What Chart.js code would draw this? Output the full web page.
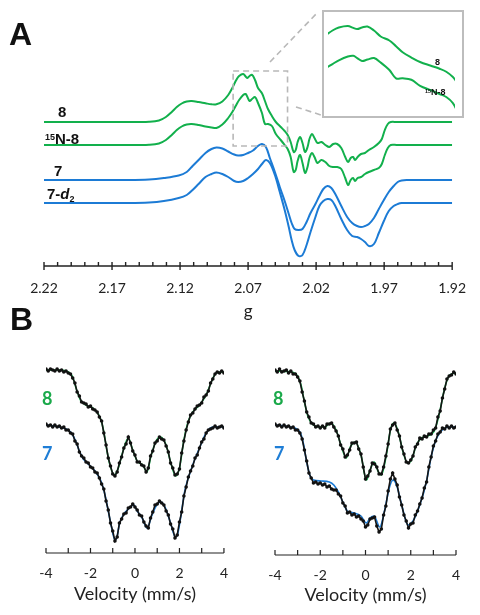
<!DOCTYPE html>
<html>
<head>
<meta charset="utf-8">
<script src="https://cdn.jsdelivr.net/npm/chart.js@4.4.1/dist/chart.umd.min.js"></script>
<style>
  body { margin: 0; width: 480px; height: 615px; position: relative; overflow: hidden; background: #fff; }
  canvas { position: absolute; }
  .lbl { position: absolute; line-height: 1; white-space: nowrap; color: #111; font-weight: bold; font-family: "Liberation Sans", Arial, sans-serif; }
  .mb { position: absolute; line-height: 1; font-weight: bold; font-family: Lato, sans-serif; font-size: 18px; }
  .sup { font-size: 0.6em; position: relative; top: -0.45em; }
  .sub { font-size: 0.6em; position: relative; top: 0.35em; }
</style>
</head>
<body>
<canvas id="epr" width="480" height="330" style="left:0;top:0"></canvas>
<div style="position:absolute;left:322px;top:10px;width:138px;height:104px;border:2px solid #bdbdbd;"></div>
<canvas id="inset" width="138" height="104" style="left:324px;top:12px"></canvas>
<canvas id="mossL" width="240" height="275" style="left:0;top:340px"></canvas>
<canvas id="mossR" width="240" height="275" style="left:240px;top:340px"></canvas>

<div class="lbl" style="left:9px;top:18px;font-size:32px">A</div>
<div class="lbl" style="left:10px;top:303px;font-size:32px">B</div>
<div class="lbl" style="left:58px;top:104px;font-size:15px">8</div>
<div class="lbl" style="left:45px;top:131px;font-size:15px"><span class="sup">15</span>N-8</div>
<div class="lbl" style="left:54px;top:163px;font-size:15px">7</div>
<div class="lbl" style="left:47px;top:186px;font-size:15px">7-<i>d</i><span class="sub">2</span></div>
<div class="lbl" style="left:435px;top:58px;font-size:9px">8</div>
<div class="lbl" style="left:425px;top:88px;font-size:9px"><span class="sup">15</span>N-8</div>
<div class="mb" style="left:42px;top:389px;color:#1aa94a">8</div>
<div class="mb" style="left:42px;top:444px;color:#1f7ed6">7</div>
<div class="mb" style="left:273px;top:389px;color:#1aa94a">8</div>
<div class="mb" style="left:274px;top:444px;color:#1f7ed6">7</div>

<script>
// ---- A: EPR spectra (derivative, arbitrary units) ----
const gGreen = [2.2200, 2.1574, 2.1428, 2.1355, 2.1304, 2.1261, 2.1224, 2.1188, 2.1151, 2.1115,
  2.1064, 2.1013, 2.0969, 2.0933, 2.0889, 2.0846, 2.0816, 2.0787, 2.0766, 2.0736,
  2.0718, 2.0705, 2.0689, 2.0671, 2.0649, 2.0627, 2.0598, 2.0576, 2.0554, 2.0525,
  2.0496, 2.0460, 2.0431, 2.0409, 2.0387, 2.0365, 2.0350, 2.0336, 2.0318, 2.0300,
  2.0281, 2.0263, 2.0249, 2.0230, 2.0212, 2.0190, 2.0161, 2.0132, 2.0103, 2.0074,
  2.0045, 2.0015, 1.9986, 1.9965, 1.9946, 1.9928, 1.9914, 1.9895, 1.9870, 1.9841,
  1.9812, 1.9775, 1.9739, 1.9717, 1.9695, 1.9673, 1.9651, 1.9608, 1.9200];
const sig8 = [0, 0, 0.3, 1.5, 5, 10, 15, 18.5, 20.5, 21,
  20, 18.7, 17.7, 17.7, 20.5, 27, 34, 42, 46, 48,
  45.5, 44, 46, 47.3, 42, 34, 28.7, 21, 13, 6,
  0, -5, -9, -13, -20, -30, -28, -20, -15, -21,
  -30, -25, -17, -12, -16, -21, -20, -23, -25, -22,
  -22, -26, -35, -40, -36, -35, -38, -35, -32, -31,
  -28, -25, -21, -17, -8, -2, 0, 0, 0];
const sig15N8 = [0, 0, 0.3, 1.5, 5, 10, 15, 18.5, 20.5, 21,
  20, 18.5, 17.5, 17, 20.5, 27, 33, 40, 45, 50,
  51, 48, 44, 46, 48, 42, 32, 21, 21, 19,
  11, 5, 0, -4, -12, -27, -25, -16, -10, -18,
  -28, -22, -13, -8, -12, -18, -15, -17, -21, -22,
  -22, -24, -33, -40, -35, -33, -36, -33, -32, -29,
  -27, -25, -23, -19, -10, -3, 0, 0, 0];
const gBlue = [2.2200, 2.1574, 2.1428, 2.1319, 2.1210, 2.1151, 2.1108, 2.1064, 2.1013, 2.0969,
  2.0933, 2.0889, 2.0846, 2.0802, 2.0773, 2.0736, 2.0700, 2.0664, 2.0627, 2.0598,
  2.0569, 2.0540, 2.0503, 2.0467, 2.0431, 2.0401, 2.0380, 2.0358, 2.0329, 2.0300,
  2.0270, 2.0241, 2.0205, 2.0176, 2.0147, 2.0117, 2.0088, 2.0059, 2.0015, 1.9972,
  1.9935, 1.9899, 1.9870, 1.9841, 1.9812, 1.9775, 1.9739, 1.9702, 1.9666, 1.9630,
  1.9600, 1.9571, 1.9535, 1.9200];
const sig7 = [0, 0, 0.5, 2, 4.5, 8, 14, 20, 27, 31,
  32.5, 31.5, 28.5, 25.5, 24.5, 25, 27, 29.5, 34, 36,
  33, 22, 8, -7, -21, -34, -43, -49, -50, -49,
  -42, -33, -24, -16, -9, -6, -8, -14, -26, -37,
  -43, -46, -47, -46, -44, -38, -29, -20, -12, -6,
  -2, -0.5, 0, 0];
const sig7d2 = [0, 0, 0.5, 2, 5, 8, 13, 19, 26, 29,
  30.5, 29, 26, 22, 21, 22, 25, 29, 34, 39,
  43, 40, 28, 11, -7, -24, -37, -47, -53, -52,
  -42, -29, -14, -3, 2, 4, 3, -3, -16, -27,
  -33, -34, -36, -39, -43, -41, -30, -18, -8, -3,
  -1, 0, 0, 0];
const gTicks = [2.22, 2.17, 2.12, 2.07, 2.02, 1.97, 1.92];
// vertical stacking of the four traces, and of the two inset traces
const offA = { s8: 144, s15: 121, s7: 86, s7d2: 63 };
const offInset = { s8: 0, s15: -42.7 };
const zoomBox = [2.081, 2.041];

// ---- B: Mossbauer spectra (% transmission) ----
const velocity = [-4.0, -3.9, -3.8, -3.7, -3.6, -3.5, -3.4, -3.3, -3.2, -3.1, -3.0,
  -2.9, -2.8, -2.7, -2.6, -2.5, -2.4, -2.3, -2.2, -2.1, -2.0,
  -1.9, -1.8, -1.7, -1.6, -1.5, -1.4, -1.3, -1.2, -1.1, -1.0,
  -0.9, -0.8, -0.7, -0.6, -0.5, -0.4, -0.3, -0.2, -0.1, 0.0,
  0.1, 0.2, 0.3, 0.4, 0.5, 0.6, 0.7, 0.8, 0.9, 1.0,
  1.1, 1.2, 1.3, 1.4, 1.5, 1.6, 1.7, 1.8, 1.9, 2.0,
  2.1, 2.2, 2.3, 2.4, 2.5, 2.6, 2.7, 2.8, 2.9, 3.0,
  3.1, 3.2, 3.3, 3.4, 3.5, 3.6, 3.7, 3.8, 3.9, 4.0];
const left8 = [100.1, 99.9, 100.1, 100.0, 99.9, 100.1, 99.9, 100.0, 99.8, 99.9, 99.7,
  99.6, 99.2, 98.7, 97.8, 97.4, 96.8, 96.7, 96.6, 96.3, 96.4,
  96.1, 96.0, 95.8, 95.3, 94.9, 93.7, 92.5, 91.2, 90.4, 89.6,
  89.4, 89.8, 90.7, 91.3, 92.2, 92.6, 93.3, 92.7, 91.9, 91.5,
  90.8, 90.8, 90.5, 90.4, 89.8, 90.2, 91.4, 91.9, 92.7, 92.9,
  93.3, 93.1, 93.0, 92.4, 91.8, 90.7, 90.2, 89.5, 89.6, 90.1,
  91.7, 92.9, 94.0, 94.8, 95.5, 95.7, 96.1, 96.4, 96.5, 96.7,
  97.3, 97.5, 97.9, 98.7, 99.1, 99.6, 99.8, 99.7, 99.9, 99.7];
const left7 = [100.2, 100.0, 100.1, 99.9, 100.1, 99.9, 100.0, 99.8, 99.9, 99.6, 99.6,
  99.3, 99.2, 98.5, 98.2, 97.4, 97.0, 96.8, 96.4, 96.3, 95.9,
  95.8, 95.4, 95.3, 94.8, 94.2, 93.7, 92.5, 91.6, 90.3, 89.5,
  88.5, 88.9, 90.3, 90.7, 91.2, 91.3, 91.8, 91.9, 92.2, 91.9,
  91.6, 91.1, 91.0, 90.4, 90.0, 89.8, 90.8, 91.4, 92.1, 92.2,
  92.5, 92.3, 92.1, 91.5, 91.1, 90.2, 89.7, 88.8, 89.1, 90.4,
  91.4, 93.0, 93.9, 94.9, 95.5, 96.0, 96.8, 97.1, 97.8, 98.4,
  98.7, 99.3, 99.6, 99.7, 99.8, 100.0, 99.8, 99.9, 100.0, 99.8];
const right8 = [100.1, 99.9, 100.2, 99.9, 100.0, 100.1, 99.8, 100.0, 99.7, 99.7, 99.4,
  99.0, 97.9, 97.0, 95.9, 95.4, 94.8, 94.7, 94.4, 94.5, 94.3,
  94.5, 94.3, 94.7, 94.7, 94.8, 94.4, 94.0, 93.5, 92.6, 92.2,
  91.4, 91.6, 92.1, 92.8, 92.8, 92.9, 92.2, 91.7, 90.4, 89.2,
  89.5, 90.0, 90.8, 90.7, 90.4, 89.7, 89.7, 90.4, 91.5, 92.7,
  94.2, 94.6, 94.8, 94.1, 93.5, 92.4, 91.7, 90.9, 90.8, 91.1,
  91.5, 92.4, 92.7, 93.3, 93.2, 93.5, 93.4, 93.7, 93.7, 94.1,
  94.3, 95.4, 96.0, 97.3, 98.2, 99.2, 99.5, 99.6, 99.9, 99.7];
const right7 = [100.2, 100.0, 100.1, 99.9, 100.1, 99.9, 100.0, 99.8, 99.9, 99.6, 99.6,
  99.3, 98.7, 97.6, 96.5, 95.3, 94.8, 94.3, 94.4, 94.2, 94.3,
  94.1, 94.2, 93.9, 94.0, 93.7, 93.6, 93.6, 93.2, 93.0, 92.3,
  92.0, 91.3, 91.4, 91.1, 91.2, 90.9, 91.0, 90.7, 90.5, 89.9,
  90.1, 90.7, 90.8, 90.9, 90.0, 89.4, 89.7, 91.1, 92.0, 93.5,
  94.7, 95.3, 94.7, 94.1, 92.9, 92.1, 91.1, 90.5, 89.8, 90.2,
  90.3, 91.1, 91.5, 92.2, 92.8, 93.8, 94.4, 95.9, 96.9, 98.0,
  98.5, 99.2, 99.4, 99.8, 99.7, 100.0, 99.8, 100.0, 99.8, 99.9];
// fitted curves
const fitL8v = [-4.0, -3.4, -3.0, -2.8, -2.65, -2.45, -2.2, -1.9, -1.65, -1.5, -1.4, -1.25, -1.1, -0.92, -0.75, -0.55, -0.3, -0.1,
  0.1, 0.35, 0.54, 0.72, 0.95, 1.15, 1.4, 1.6, 1.83, 2.0, 2.2, 2.4, 2.6, 2.9, 3.2, 3.45, 3.65, 4.0];
const fitL8 = [100.0, 100.0, 99.8, 99.3, 98.2, 97.0, 96.5, 96.2, 95.6, 94.8, 93.8, 91.8, 90.3, 89.5, 90.2, 91.8, 93.2, 92.0,
  90.9, 90.5, 89.8, 91.4, 92.9, 93.3, 92.5, 90.8, 89.4, 90.2, 93.0, 94.9, 95.8, 96.5, 97.5, 98.9, 99.7, 99.8];
const fitL7v = [-4.0, -3.4, -3.0, -2.8, -2.65, -2.5, -2.35, -2.1, -1.8, -1.55, -1.4, -1.3, -1.1, -0.9, -0.8, -0.7, -0.55, -0.3,
  -0.05, 0.1, 0.3, 0.55, 0.75, 0.95, 1.15, 1.35, 1.6, 1.82, 1.92, 2.05, 2.25, 2.55, 2.9, 3.2, 3.5, 4.0];
const fitL7 = [100.1, 99.9, 99.6, 99.1, 98.4, 97.5, 96.8, 96.2, 95.5, 94.6, 93.6, 92.6, 90.4, 88.6, 89.0, 90.2, 91.0, 91.7,
  92.1, 91.5, 90.9, 89.8, 91.0, 92.0, 92.4, 91.9, 90.3, 88.9, 89.2, 90.8, 93.6, 95.8, 97.8, 99.3, 99.9, 99.9];
const fitR8v = [-4.0, -3.3, -3.0, -2.85, -2.7, -2.55, -2.35, -2.0, -1.8, -1.55, -1.3, -1.1, -0.85, -0.65, -0.45, -0.2, 0.04, 0.2,
  0.38, 0.55, 0.7, 0.92, 1.12, 1.27, 1.45, 1.66, 1.85, 2.03, 2.25, 2.47, 2.76, 3.06, 3.28, 3.5, 3.72, 4.0];
const fitR8 = [100.0, 99.9, 99.5, 98.6, 96.9, 95.5, 94.7, 94.4, 94.4, 94.8, 94.1, 92.7, 91.3, 92.5, 92.9, 91.6, 89.1, 90.1,
  90.9, 90.0, 89.6, 91.6, 94.3, 94.8, 93.9, 91.9, 90.8, 91.1, 92.6, 93.3, 93.5, 94.1, 95.9, 98.3, 99.6, 99.8];
const fitR7v = [-4.0, -3.3, -2.9, -2.75, -2.6, -2.45, -2.3, -1.95, -1.6, -1.4, -1.2, -1.0, -0.8, -0.5, -0.2, 0.04, 0.2,
  0.38, 0.63, 0.85, 1.05, 1.22, 1.4, 1.6, 1.88, 2.1, 2.4, 2.69, 2.91, 3.13, 3.35, 3.7, 4.0];
const fitR7 = [100.1, 99.9, 99.4, 98.3, 96.4, 95.0, 94.6, 94.5, 94.4, 94.1, 93.4, 92.4, 91.5, 91.3, 91.0, 90.3, 90.8,
  91.0, 89.9, 91.6, 93.8, 94.6, 93.9, 92.1, 90.1, 90.5, 92.1, 94.4, 97.0, 98.7, 99.5, 99.9, 99.9];
const offB = { left7: -5.6, right7: -5.5 };

const GREEN = '#12b04c';
const BLUE = '#1c7bd5';
const AXIS = '#222';

Chart.defaults.font.family = 'Lato, sans-serif';
Chart.defaults.color = '#222';
Chart.defaults.animation = false;

function pts(xs, ys, off) {
  return xs.map((x, i) => ({ x: x, y: ys[i] + off }));
}
function trace(xs, ys, off, color) {
  return { data: pts(xs, ys, off), borderColor: color, borderWidth: 2, pointRadius: 0,
           tension: 0.35, fill: false };
}

// axis, ticks and zoom window for panel A
const eprAxis = {
  id: 'eprAxis',
  afterDraw(chart) {
    const { ctx, chartArea: a, scales: { x, y } } = chart;
    ctx.save();
    ctx.strokeStyle = AXIS;
    ctx.lineWidth = 1.4;
    ctx.beginPath();
    ctx.moveTo(a.left, a.bottom);
    ctx.lineTo(a.right, a.bottom);
    for (let k = 0; k <= 30; k++) {
      const px = x.getPixelForValue(1.92 + k * 0.01);
      ctx.moveTo(px, a.bottom - 4);
      ctx.lineTo(px, k % 5 === 0 ? a.bottom + 4 : a.bottom);
    }
    ctx.stroke();
    // dashed zoom box + connectors to the inset
    ctx.strokeStyle = '#b8b8b8';
    ctx.lineWidth = 1.6;
    ctx.setLineDash([6, 4]);
    const x0 = x.getPixelForValue(zoomBox[0]), x1 = x.getPixelForValue(zoomBox[1]);
    const y0 = y.getPixelForValue(195), y1 = y.getPixelForValue(120);
    ctx.strokeRect(x0, y0, x1 - x0, y1 - y0);
    ctx.beginPath();
    ctx.moveTo(270, 62); ctx.lineTo(317, 13);
    ctx.moveTo(296, 107); ctx.lineTo(321, 115);
    ctx.stroke();
    ctx.restore();
  }
};

new Chart(document.getElementById('epr'), {
  type: 'line',
  data: {
    datasets: [
      trace(gGreen, sig8, offA.s8, GREEN),
      trace(gGreen, sig15N8, offA.s15, GREEN),
      trace(gBlue, sig7, offA.s7, BLUE),
      trace(gBlue, sig7d2, offA.s7d2, BLUE)
    ]
  },
  options: {
    responsive: false,
    layout: { padding: { left: 44, right: 24, top: 40, bottom: 0 } },
    plugins: { legend: { display: false }, tooltip: { enabled: false } },
    scales: {
      x: {
        type: 'linear', reverse: true, min: 1.92, max: 2.22,
        grid: { display: false, drawTicks: false },
        border: { display: false },
        afterBuildTicks: s => { s.ticks = gTicks.map(v => ({ value: v })); },
        afterFit: s => { s.height = 64; },
        ticks: { padding: 14, font: { size: 14 }, color: '#222', callback: v => v.toFixed(2), maxRotation: 0 },
        title: { display: true, text: 'g', font: { size: 17 }, color: '#222', padding: { top: 0, bottom: 8 } }
      },
      y: { display: false, min: 0, max: 226 }
    }
  },
  plugins: [eprAxis]
});

// inset: same two green traces, enlarged
new Chart(document.getElementById('inset'), {
  type: 'line',
  data: {
    datasets: [
      trace(gGreen, sig8, offInset.s8, GREEN),
      trace(gGreen, sig15N8, offInset.s15, GREEN)
    ]
  },
  options: {
    responsive: false,
    layout: { padding: { left: 4, right: 7, top: 2, bottom: 2 } },
    plugins: { legend: { display: false }, tooltip: { enabled: false } },
    scales: {
      x: { type: 'linear', reverse: true, min: 2.038, max: 2.0802, display: false },
      y: { display: false, min: -69.3, max: 64 }
    }
  }
});

// axis with upward ticks for panel B
const mossAxis = {
  id: 'mossAxis',
  afterDraw(chart) {
    const { ctx, chartArea: a, scales: { x } } = chart;
    ctx.save();
    ctx.strokeStyle = AXIS;
    ctx.lineWidth = 1.2;
    ctx.beginPath();
    ctx.moveTo(a.left, a.bottom);
    ctx.lineTo(a.right, a.bottom);
    for (let v = -4; v <= 4; v++) {
      const px = x.getPixelForValue(v);
      ctx.moveTo(px, a.bottom);
      ctx.lineTo(px, a.bottom - 5);
    }
    ctx.stroke();
    ctx.restore();
  }
};

function dots(ys, off) {
  return { data: pts(velocity, ys, off), order: 1, showLine: true, borderColor: '#151515', borderWidth: 1.6,
           pointRadius: 1.8, pointBackgroundColor: '#111', pointBorderWidth: 0 };
}
function fit(xs, ys, off, color) {
  return { data: pts(xs, ys, off), order: 2, borderColor: color, borderWidth: 1.6, pointRadius: 0,
           cubicInterpolationMode: 'monotone' };
}

function mossChart(id, pad, axisH, titlePad, yMin, yMax, datasets) {
  return new Chart(document.getElementById(id), {
    type: 'line',
    data: { datasets: datasets },
    options: {
      responsive: false,
      layout: { padding: pad },
      plugins: { legend: { display: false }, tooltip: { enabled: false } },
      scales: {
        x: {
          type: 'linear', min: -4, max: 4,
          grid: { display: false, drawTicks: false },
          border: { display: false },
          afterFit: s => { s.height = axisH; },
          ticks: { stepSize: 2, padding: 12, font: { size: 14 }, color: '#222', maxRotation: 0 },
          title: { display: true, text: 'Velocity (mm/s)', font: { size: 18 }, color: '#222', padding: { top: 0, bottom: titlePad } }
        },
        y: { display: false, min: yMin, max: yMax }
      }
    },
    plugins: [mossAxis]
  });
}

mossChart('mossL', { left: 46, right: 12, top: 15, bottom: 0 }, 62, 10, 81.7, 101.5, [
  dots(left8, 0),
  dots(left7, offB.left7),
  fit(fitL8v, fitL8, 0, GREEN),
  fit(fitL7v, fitL7, offB.left7, BLUE)
]);
mossChart('mossR', { left: 35, right: 24, top: 16, bottom: 0 }, 60, 9, 81.6, 101.5, [
  dots(right8, 0),
  dots(right7, offB.right7),
  fit(fitR8v, fitR8, 0, GREEN),
  fit(fitR7v, fitR7, offB.right7, BLUE)
]);
</script>
</body>
</html>
